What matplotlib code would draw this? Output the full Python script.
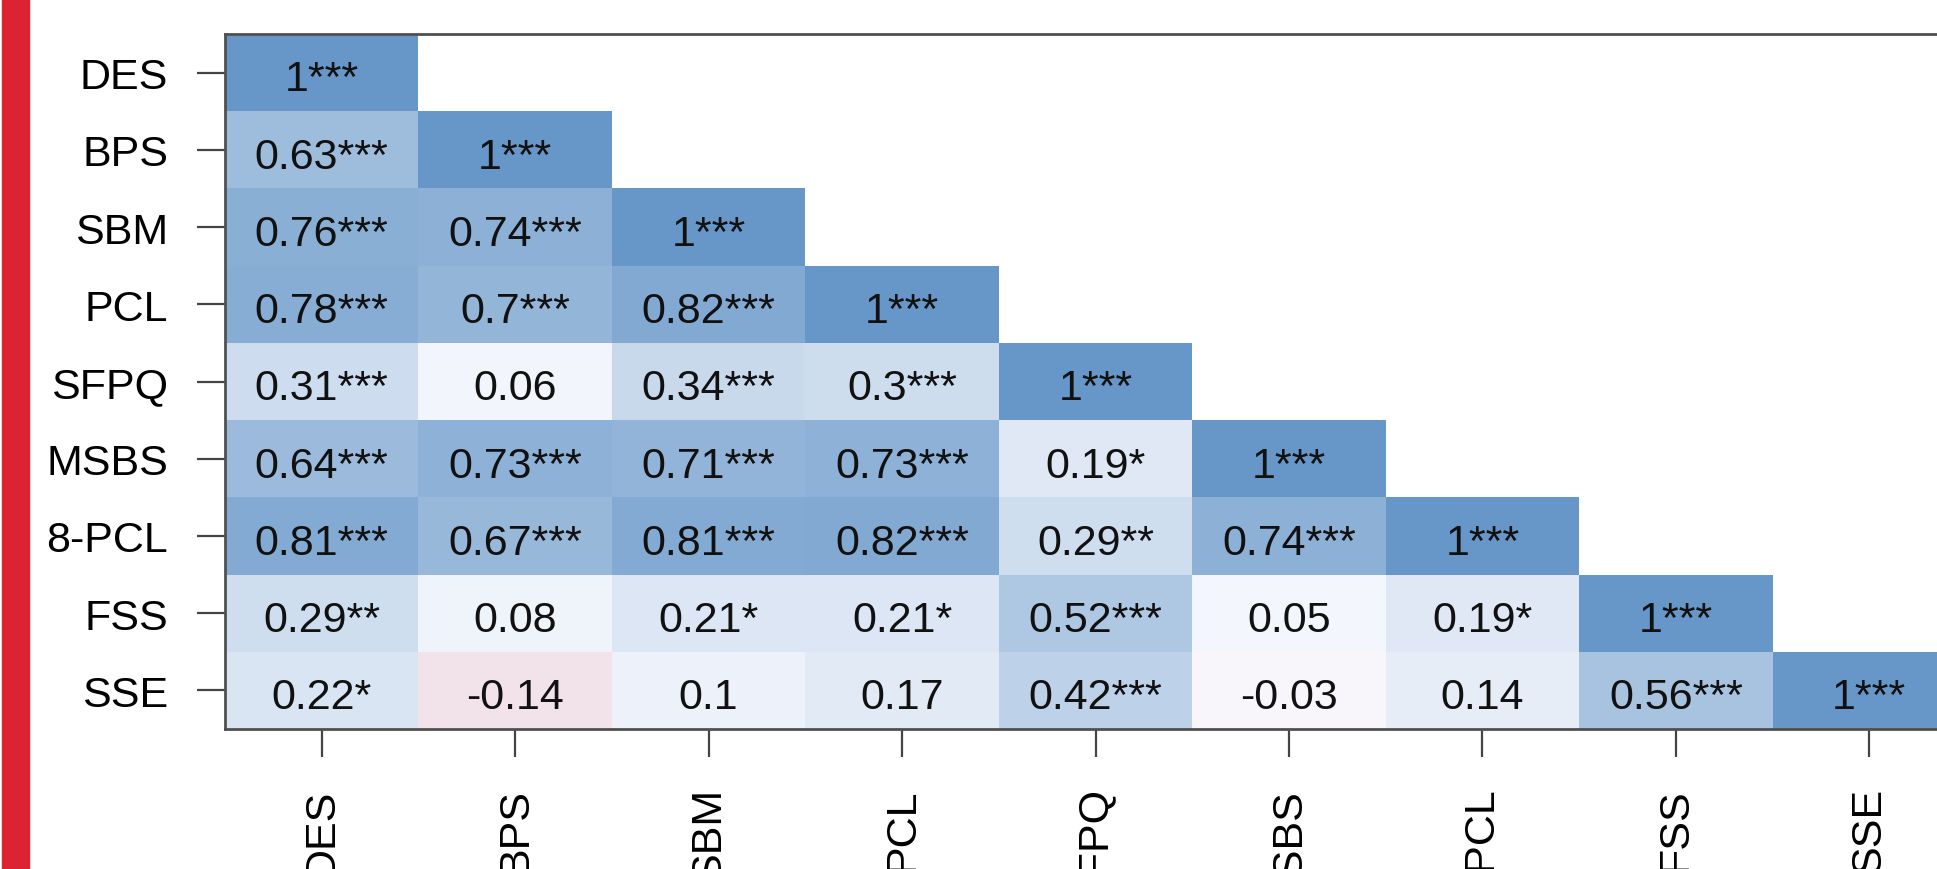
import numpy as np
import matplotlib
matplotlib.use("Agg")
import matplotlib.pyplot as plt
from matplotlib.colors import LinearSegmentedColormap
from matplotlib.patches import Rectangle

plt.rcParams['font.family'] = ['Liberation Sans', 'DejaVu Sans']

labels = ['DES', 'BPS', 'SBM', 'PCL', 'SFPQ', 'MSBS', '8-PCL', 'FSS', 'SSE']

# lower triangle of the correlation matrix, row by row
r_values = [
    [1],
    [0.63, 1],
    [0.76, 0.74, 1],
    [0.78, 0.7, 0.82, 1],
    [0.31, 0.06, 0.34, 0.3, 1],
    [0.64, 0.73, 0.71, 0.73, 0.19, 1],
    [0.81, 0.67, 0.81, 0.82, 0.29, 0.74, 1],
    [0.29, 0.08, 0.21, 0.21, 0.52, 0.05, 0.19, 1],
    [0.22, -0.14, 0.1, 0.17, 0.42, -0.03, 0.14, 0.56, 1],
]
stars = [
    ['***'],
    ['***', '***'],
    ['***', '***', '***'],
    ['***', '***', '***', '***'],
    ['***', '', '***', '***', '***'],
    ['***', '***', '***', '***', '*', '***'],
    ['***', '***', '***', '***', '**', '***', '***'],
    ['**', '', '*', '*', '***', '', '*', '***'],
    ['*', '', '', '', '***', '', '', '***', '***'],
]

n = len(labels)
mat = np.full((n, n), np.nan)
for i, row in enumerate(r_values):
    mat[i, :len(row)] = row
mat = np.ma.masked_invalid(mat)

cmap = LinearSegmentedColormap.from_list(
    'corr', ['#b8455f', '#fbfbff', '#6797c8'])

fig = plt.figure(figsize=(19.37, 8.7), dpi=100)
fig.patches.append(Rectangle((2 / 1937, 0), 27 / 1937, 1, transform=fig.transFigure,
                             color='#db2331', zorder=0))

ax = fig.add_axes([225 / 1937, 1 - 730 / 870, 1741 / 1937, 695 / 870])
ax.pcolormesh(np.arange(n + 1), np.arange(n + 1), mat, cmap=cmap,
              vmin=-1, vmax=1, shading='flat')
ax.set_xlim(0, n)
ax.set_ylim(n, 0)

for i, row in enumerate(r_values):
    for j, v in enumerate(row):
        ax.text(j + 0.5, i + 0.53, f'{v:g}{stars[i][j]}', ha='center',
                va='center_baseline', fontsize=31, color='#111111')

ax.set_yticks(np.arange(n) + 0.5)
ax.set_yticklabels(labels, fontsize=31)
ax.set_xticks(np.arange(n) + 0.5)
ax.set_xticklabels(labels, fontsize=31, rotation=90)
ax.tick_params(axis='y', length=20, width=1.6, color='#444444', pad=21)
ax.tick_params(axis='x', length=20, width=1.6, color='#444444', pad=22)
for s in ax.spines.values():
    s.set_linewidth(2)
    s.set_color('#505050')

fig.savefig('out.png', dpi=100)
